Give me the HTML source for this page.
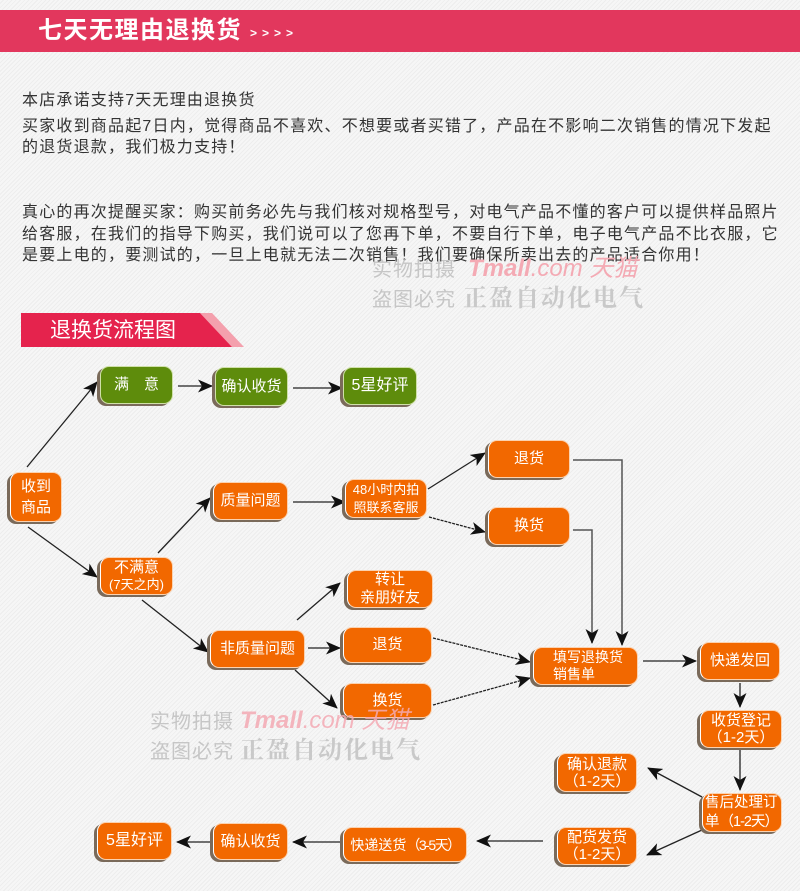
<!DOCTYPE html>
<html><head><meta charset="utf-8">
<style>
*{margin:0;padding:0;box-sizing:border-box}
body{width:800px;height:891px;overflow:hidden;position:relative;
background:repeating-linear-gradient(135deg,#f6f6f6 0px,#f6f6f6 2px,#ededed 2px,#ededed 3px);
font-family:"Liberation Sans","Noto Sans CJK SC",sans-serif;}
.abs{position:absolute}
.hdr{left:0;top:10px;width:800px;height:42px;background:#e2375d;}
.hdr .t{position:absolute;left:38px;top:7px;font-size:24px;font-weight:bold;color:#fff;letter-spacing:1.5px;line-height:28px;white-space:nowrap}
.hdr .c{position:absolute;left:250px;top:14px;font-size:12px;font-weight:bold;color:#fff;letter-spacing:5px;line-height:18px;font-family:"Liberation Sans",sans-serif}
.ln{position:absolute;left:22px;font-size:16px;letter-spacing:1.2px;color:#333;line-height:20px;white-space:nowrap}
.wm{position:absolute;white-space:nowrap;line-height:26px}
.g{color:#c6c6c6;font-size:20px;letter-spacing:1px}
.tm{color:#f4aab4;font-size:24px;font-style:italic}
.zy{color:#c9c9c9;font-size:24px;font-weight:bold;font-family:"Liberation Serif","Noto Serif CJK SC",serif;letter-spacing:2px}
.b{position:absolute;border-radius:9px;display:flex;align-items:center;justify-content:center;text-align:center;color:#fff;font-size:15px;line-height:18px;
background:#f26800;border:1px solid #fbd2b0;border-left:1.5px solid #fff;box-shadow:-3px 2px 0 #7a6a5a;}
.b>div{white-space:nowrap}
.gr{background:#5e8c0c;border-color:#cfe0a8;}
.s13{font-size:13px;line-height:18px}
</style></head><body>

<div class="abs hdr"><div class="t">七天无理由退换货</div><div class="c">&gt;&gt;&gt;&gt;</div></div>

<div class="ln" style="top:91px">本店承诺支持7天无理由退换货</div>
<div class="ln" style="top:117px">买家收到商品起7日内，觉得商品不喜欢、不想要或者买错了，产品在不影响二次销售的情况下发起</div>
<div class="ln" style="top:138px">的退货退款，我们极力支持！</div>
<div class="ln" style="top:203px">真心的再次提醒买家：购买前务必先与我们核对规格型号，对电气产品不懂的客户可以提供样品照片</div>
<div class="ln" style="top:225px">给客服，在我们的指导下购买，我们说可以了您再下单，不要自行下单，电子电气产品不比衣服，它</div>
<div class="ln" style="top:246px">是要上电的，要测试的，一旦上电就无法二次销售！我们要确保所卖出去的产品适合你用！</div>

<!-- section banner -->
<svg class="abs" style="left:0;top:0" width="800" height="891">
<polygon points="200,313 212,313 244,347 232,347" fill="#f4a0ad"/>
<polygon points="21,313 200,313 232,347 21,347" fill="#e5234d"/>
</svg>
<div class="abs" style="left:50px;top:318px;font-size:21px;color:#fff;line-height:26px;white-space:nowrap">退换货流程图</div>

<!-- connectors -->
<svg class="abs" style="left:0;top:0" width="800" height="891">
<defs>
<marker id="a" markerUnits="userSpaceOnUse" markerWidth="15" markerHeight="13" refX="14" refY="6.5" orient="auto">
<path d="M0,0 L15,6.5 L0,13 L4,6.5 z" fill="#111"/></marker>
</defs>
<g stroke="#222" stroke-width="1.3" fill="none" marker-end="url(#a)">
<line x1="27" y1="467" x2="97" y2="382"/>
<line x1="28" y1="527" x2="97" y2="577"/>
<line x1="178" y1="386" x2="212" y2="386"/>
<line x1="293" y1="388" x2="342" y2="388"/>
<line x1="158" y1="553" x2="210" y2="498"/>
<line x1="293" y1="502" x2="345" y2="502"/>
<line x1="142" y1="600" x2="208" y2="652"/>
<line x1="428" y1="489" x2="485" y2="453"/>
<line x1="429" y1="517" x2="485" y2="532" stroke-dasharray="3 1"/>
<line x1="297" y1="620" x2="340" y2="583"/>
<line x1="308" y1="648" x2="340" y2="648"/>
<line x1="295" y1="670" x2="337" y2="708"/>
<line x1="433" y1="638" x2="530" y2="662" stroke-dasharray="3 1"/>
<line x1="433" y1="705" x2="530" y2="678" stroke-dasharray="3 1"/>
<polyline points="573,460 622,460 622,645" stroke="#555" stroke-width="1.5"/>
<polyline points="573,530 592,530 592,643" stroke="#555" stroke-width="1.5"/>
<line x1="643" y1="661" x2="696" y2="661"/>
<line x1="740" y1="683" x2="740" y2="707"/>
<line x1="740" y1="750" x2="740" y2="790"/>
<line x1="702" y1="797" x2="648" y2="768"/>
<line x1="702" y1="830" x2="647" y2="855"/>
<line x1="543" y1="841" x2="477" y2="841"/>
<line x1="343" y1="842" x2="293" y2="842"/>
<line x1="213" y1="842" x2="177" y2="842"/>
</g>
</svg>

<!-- boxes -->
<div class="b gr" style="left:100px;top:366px;width:73px;height:38px"><div>满　意</div></div>
<div class="b gr" style="left:215px;top:367px;width:73px;height:39px"><div>确认收货</div></div>
<div class="b gr" style="left:343px;top:367px;width:74px;height:38px;font-size:16px"><div>5星好评</div></div>

<div class="b" style="left:10px;top:472px;width:52px;height:50px;line-height:21px"><div>收到<br>商品</div></div>
<div class="b" style="left:213px;top:482px;width:75px;height:38px"><div>质量问题</div></div>
<div class="b s13" style="left:345px;top:479px;width:82px;height:39px"><div>48小时内拍<br>照联系客服</div></div>
<div class="b" style="left:100px;top:557px;width:73px;height:38px;line-height:17px"><div>不满意<br><span style="font-size:13px">(7天之内)</span></div></div>
<div class="b" style="left:347px;top:570px;width:86px;height:38px;line-height:18px"><div>转让<br>亲朋好友</div></div>
<div class="b" style="left:488px;top:440px;width:82px;height:38px"><div>退货</div></div>
<div class="b" style="left:488px;top:507px;width:82px;height:38px"><div>换货</div></div>
<div class="b" style="left:210px;top:630px;width:95px;height:38px"><div>非质量问题</div></div>
<div class="b" style="left:343px;top:627px;width:89px;height:36px"><div>退货</div></div>
<div class="b" style="left:343px;top:683px;width:89px;height:35px"><div>换货</div></div>
<div class="b" style="left:533px;top:647px;width:105px;height:38px;font-size:14px;justify-content:flex-start;text-align:left;padding-left:19px;line-height:17px"><div>填写退换货<br>销售单</div></div>
<div class="b" style="left:700px;top:642px;width:80px;height:38px"><div>快递发回</div></div>
<div class="b" style="left:700px;top:710px;width:82px;height:38px;line-height:17px"><div>收货登记<br>（1-2天）</div></div>
<div class="b" style="left:557px;top:753px;width:80px;height:39px;line-height:17px"><div>确认退款<br>（1-2天）</div></div>
<div class="b" style="left:702px;top:793px;width:80px;height:39px;line-height:19px;font-size:14.5px;justify-content:flex-start;text-align:left;padding-left:2px"><div>售后处理订<br>单<span style="letter-spacing:-1px">（1-2天）</span></div></div>
<div class="b" style="left:557px;top:827px;width:80px;height:38px;line-height:17px"><div>配货发货<br>（1-2天）</div></div>
<div class="b" style="left:343px;top:827px;width:124px;height:35px;font-size:14px"><div>快递送货<span style="letter-spacing:-1.5px">（3-5天）</span></div></div>
<div class="b" style="left:213px;top:823px;width:75px;height:37px"><div>确认收货</div></div>
<div class="b" style="left:97px;top:822px;width:75px;height:38px;font-size:16px"><div>5星好评</div></div>

<!-- watermarks -->
<div class="wm g" style="left:372px;top:257px">实物拍摄</div>
<div class="wm tm" style="left:468px;top:256px"><b>Tmall</b>.com 天猫</div>
<div class="wm g" style="left:372px;top:287px">盗图必究</div>
<div class="wm zy" style="left:463px;top:286px">正盈自动化电气</div>

<div class="wm g" style="left:150px;top:709px">实物拍摄</div>
<div class="wm tm" style="left:240px;top:708px;opacity:.85"><b>Tmall</b>.com 天猫</div>
<div class="wm g" style="left:150px;top:739px">盗图必究</div>
<div class="wm zy" style="left:240px;top:738px">正盈自动化电气</div>

</body></html>
